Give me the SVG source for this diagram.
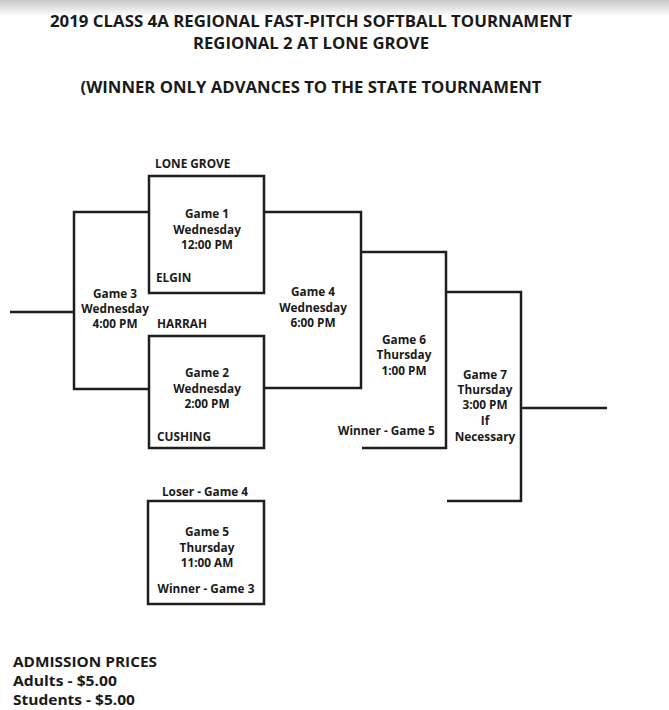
<svg xmlns="http://www.w3.org/2000/svg" width="669" height="710" viewBox="0 0 669 710">
<defs>
<linearGradient id="topfade" x1="0" y1="0" x2="0" y2="1">
<stop offset="0" stop-color="#c8c8c8"/>
<stop offset="1" stop-color="#ffffff"/>
</linearGradient>
</defs>
<style>
text{font-family:"Open Sans","Liberation Sans",sans-serif;font-weight:bold;fill:#1a1a1a}
.t{font-size:15.5px;text-anchor:middle}
.g{font-size:11.8px;text-anchor:middle}
.l{font-size:11.8px}
.a{font-size:14px}
.box{fill:none;stroke:#1e1e1e;stroke-width:2.5}
.ln{fill:none;stroke:#1e1e1e;stroke-width:2.5}
</style>
<rect x="0" y="0" width="669" height="710" fill="#ffffff"/>
<rect x="0" y="0" width="669" height="16" fill="url(#topfade)"/>

<g id="title">
<text class="t" x="311" y="27" textLength="522" lengthAdjust="spacingAndGlyphs">2019 CLASS 4A REGIONAL FAST-PITCH SOFTBALL TOURNAMENT</text>
<text class="t" x="311" y="49" textLength="236" lengthAdjust="spacingAndGlyphs">REGIONAL 2 AT LONE GROVE</text>
<text class="t" x="311" y="93" textLength="461" lengthAdjust="spacingAndGlyphs">(WINNER ONLY ADVANCES TO THE STATE TOURNAMENT</text>
</g>

<g id="connectors">
<path class="ln" d="M149,212 H74 V389 H149"/>
<path class="ln" d="M10,312 H74"/>
<path class="ln" d="M264,212 H361 V388 H264"/>
<path class="ln" d="M361,252 H446 V448 H362"/>
<path class="ln" d="M447,292 H521 V501 H447"/>
<path class="ln" d="M521,408 H607"/>
</g>

<g id="game1">
<rect class="box" x="149" y="176" width="115" height="117"/>
<text class="l" x="155" y="168">LONE GROVE</text>
<text class="g" x="207" y="218">Game 1</text>
<text class="g" x="207" y="234">Wednesday</text>
<text class="g" x="207" y="249">12:00 PM</text>
<text class="l" x="156" y="282">ELGIN</text>
</g>

<g id="game2">
<rect class="box" x="149" y="336" width="115" height="112"/>
<text class="l" x="157" y="328">HARRAH</text>
<text class="g" x="207" y="377">Game 2</text>
<text class="g" x="207" y="393">Wednesday</text>
<text class="g" x="207" y="408">2:00 PM</text>
<text class="l" x="157" y="441">CUSHING</text>
</g>

<g id="game3">
<text class="g" x="115" y="298">Game 3</text>
<text class="g" x="115" y="313">Wednesday</text>
<text class="g" x="115" y="328">4:00 PM</text>
</g>

<g id="game4">
<text class="g" x="313" y="296">Game 4</text>
<text class="g" x="313" y="312">Wednesday</text>
<text class="g" x="313" y="327">6:00 PM</text>
</g>

<g id="game6">
<text class="g" x="404" y="344">Game 6</text>
<text class="g" x="404" y="359">Thursday</text>
<text class="g" x="404" y="375">1:00 PM</text>
<text class="l" x="338" y="435">Winner - Game 5</text>
</g>

<g id="game7">
<text class="g" x="485" y="379">Game 7</text>
<text class="g" x="485" y="394">Thursday</text>
<text class="g" x="485" y="409">3:00 PM</text>
<text class="g" x="485" y="425">If</text>
<text class="g" x="485" y="441">Necessary</text>
</g>

<g id="game5">
<rect class="box" x="148" y="501" width="116" height="103"/>
<text class="g" x="205" y="496">Loser - Game 4</text>
<text class="g" x="207" y="536">Game 5</text>
<text class="g" x="207" y="552">Thursday</text>
<text class="g" x="207" y="567">11:00 AM</text>
<text class="g" x="206" y="593">Winner - Game 3</text>
</g>

<g id="admission">
<text class="a" x="13" y="667" textLength="144" lengthAdjust="spacingAndGlyphs">ADMISSION PRICES</text>
<text class="a" x="13" y="686" textLength="104" lengthAdjust="spacingAndGlyphs">Adults - $5.00</text>
<text class="a" x="13" y="705" textLength="122" lengthAdjust="spacingAndGlyphs">Students - $5.00</text>
</g>
</svg>
